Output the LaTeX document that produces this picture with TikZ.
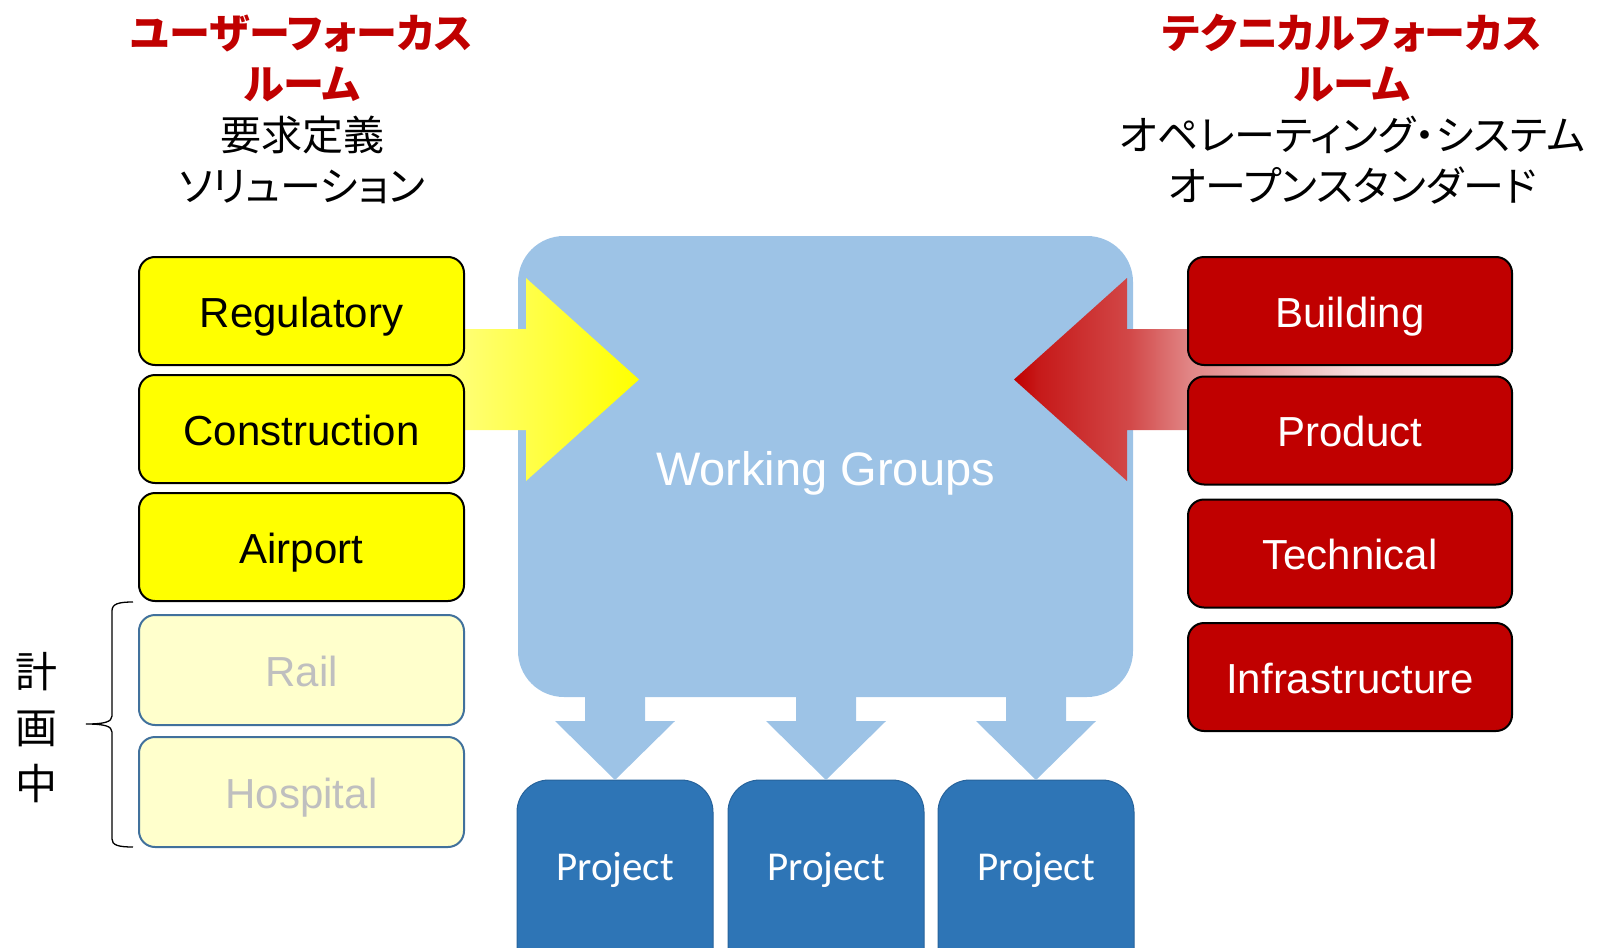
\documentclass[tikz,border=0pt]{standalone}
\usepackage{fontspec}
\setmainfont{Liberation Sans}
\newfontfamily\jpfont[RawFeature=+palt]{Noto Sans CJK JP}
\newfontfamily\jpfixed{Noto Sans CJK JP}
\newfontfamily\calfont{Carlito}
\usetikzlibrary{calc}

\definecolor{boxred}{HTML}{C00000}
\definecolor{titlered}{HTML}{C00000}
\definecolor{roomyel}{HTML}{FFFF00}
\definecolor{paleyel}{HTML}{FFFFCC}
\definecolor{planedge}{HTML}{41719C}
\definecolor{plantext}{HTML}{BFBFBF}
\definecolor{wgblue}{HTML}{9DC3E6}
\definecolor{projblue}{HTML}{2E75B6}

% block-arrow fills: the middle 50bp span covers the arrow from end to end
\pgfdeclarehorizontalshading{yellowfade}{100bp}{%
  color(0bp)=(white); color(25bp)=(white);
  color(41bp)=(roomyel!15!white); color(57.5bp)=(roomyel!55!white);
  color(75bp)=(roomyel); color(100bp)=(roomyel)}
\pgfdeclarehorizontalshading{redfade}{100bp}{%
  color(0bp)=(boxred); color(25bp)=(boxred);
  color(27.5bp)=(boxred!90!white); color(36.5bp)=(boxred!72!white);
  color(42.5bp)=(boxred!48!white); color(60bp)=(boxred!12!white);
  color(75bp)=(white); color(100bp)=(white)}

\begin{document}
\begin{tikzpicture}[x=1pt,y=-1pt,
  every node/.style={inner sep=0pt, outer sep=0pt},
  boxbase/.style={rounded corners=16pt, line width=2pt, minimum width=325pt,
    minimum height=108pt, text height=33pt, text depth=1pt,
    font=\fontsize{42}{48}\selectfont},
  userbox/.style={boxbase, draw=black, fill=roomyel},
  planbox/.style={boxbase, draw=planedge, fill=paleyel, text=plantext, minimum height=110pt},
  techbox/.style={boxbase, draw=black, fill=boxred, text=white, minimum width=324pt},
  wgbox/.style={fill=wgblue, rounded corners=46pt, minimum width=615pt, minimum height=461pt},
  projbox/.style={fill=projblue, draw=projblue!85!black, line width=1pt,
    rounded corners=32pt, minimum width=196pt, minimum height=240pt},
  projlabel/.style={anchor=base, text=white, font=\calfont\fontsize{41}{48}\selectfont},
  downarrow/.style={fill=wgblue},
  heading/.style={align=center, font=\jpfont\fontsize{41}{51}\selectfont},
]
\useasboundingbox (0,0) rectangle (1597,947);
\clip (0,0) rectangle (1597,947);

% central working-group panel
\node[wgbox] (wg) at (825.5,466.5) {};
\node[anchor=base, text=white, font=\fontsize{47}{56}\selectfont] (wgt) at (825.5,485) {Working Groups};

% project boxes, running off the bottom edge
\node[projbox] (p1) at (615,900) {};
\node[projbox] (p2) at (826,900) {};
\node[projbox] (p3) at (1036,900) {};
\node[projlabel] (t1) at (615,880) {Project};
\node[projlabel] (t2) at (826,880) {Project};
\node[projlabel] (t3) at (1036,880) {Project};

% block arrows from the panel down to each project
\foreach \p in {p1,p2,p3}
  \fill[downarrow] (\p.north) -- ++(-60,-59) -- ++(30,0) -- ++(0,-32)
    -- ++(60,0) -- ++(0,32) -- ++(30,0) -- cycle;

% user-focus arrow into the panel
\shade[shading=yellowfade] (139,329) -- (526,329) -- (526,278) -- (639,379.5)
  -- (526,481) -- (526,430) -- (139,430) -- cycle;
% technical-focus arrow into the panel
\shade[shading=redfade] (1512,329) -- (1127,329) -- (1127,278) -- (1014,379.5)
  -- (1127,481) -- (1127,430) -- (1512,430) -- cycle;

% user-focus rooms
\node[userbox] (reg) at (301.5,311) {Regulatory};
\node[userbox] (con) at (301.5,429) {Construction};
\node[userbox] (air) at (301.5,547) {Airport};
\node[planbox] (rail) at (301.5,670) {Rail};
\node[planbox] (hosp) at (301.5,792) {Hospital};

% technical-focus rooms
\node[techbox] (bld) at (1350,311) {Building};
\node[techbox] (prd) at (1350,430.5) {Product};
\node[techbox] (tec) at (1350,553.5) {Technical};
\node[techbox] (inf) at (1350,677) {Infrastructure};

% brace grouping the planned rooms
\coordinate (bt) at (133,602);
\coordinate (bb) at (133,847);
\coordinate (btip) at (86,724);
\draw[line width=1.3pt] (bt) .. controls (118,602) and (112,604) .. (112,611)
  -- (112,716) .. controls (112,722) and (104,724) .. (btip)
  .. controls (104,724) and (112,726) .. (112,732)
  -- (112,839) .. controls (112,845) and (118,847) .. (bb);
\node[align=center, font=\jpfixed\fontsize{42}{56}\selectfont] (plan) at (37,728) {計\\画\\中};

% column headings
\node[heading] (ul) at (302,109) {\textcolor{titlered}{\bfseries ユーザーフォーカス}\\
  \textcolor{titlered}{\bfseries ルーム}\\要求定義\\ソリューション};
\node[heading] (tl) at (1352,109) {\textcolor{titlered}{\bfseries テクニカルフォーカス}\\
  \textcolor{titlered}{\bfseries ルーム}\\オペレーティング・システム\\オープンスタンダード};
\end{tikzpicture}
\end{document}
